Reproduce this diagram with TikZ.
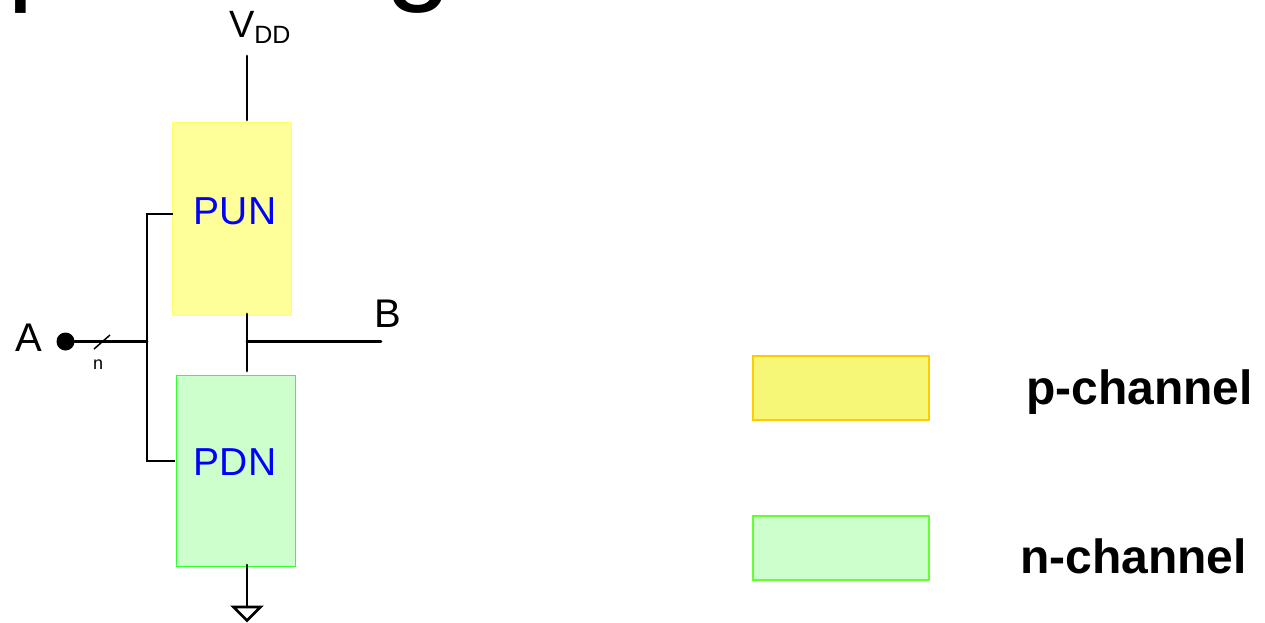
\documentclass[tikz,border=0pt]{standalone}
\usepackage{fontspec}
\setmainfont{Liberation Sans}
\definecolor{punfill}{HTML}{FFFF99}
\definecolor{punline}{HTML}{FFFF66}
\definecolor{pdnfill}{HTML}{CCFFCC}
\definecolor{pdnline}{HTML}{33FF33}
\definecolor{legpfill}{HTML}{F7F777}
\definecolor{legpline}{HTML}{FFCC00}
\definecolor{legnline}{HTML}{66FF33}
\definecolor{netblue}{HTML}{0000FF}
\newcommand{\fs}[1]{\fontsize{#1}{#1}\selectfont}
\tikzset{
  box/.style={draw,line width=1pt,inner sep=0pt,outer sep=0pt},
  legbox/.style={draw,line width=1.6pt,inner sep=0pt,outer sep=0pt},
  wire/.style={draw=black,line width=2.7pt,line cap=round,line join=miter},
  thinwire/.style={draw=black,line width=1.5pt},
  lbl/.style={inner sep=0pt,outer sep=0pt,text=black,anchor=base west},
  netlbl/.style={inner sep=0pt,outer sep=0pt,text=netblue,font=\fs{39}},
  leglbl/.style={inner sep=0pt,outer sep=0pt,text=black,anchor=base west,font=\fs{48}\bfseries}
}
\begin{document}
\begin{tikzpicture}[x=1pt,y=-1pt]
\useasboundingbox (0,0) rectangle (1265,623);
% clipped title fragments
\node[lbl,font=\fs{120}] (titlep) at (8,-11) {p};
\node[lbl,font=\fs{120}] (titleg) at (385,-11) {g};
% blocks
\node[box,draw=punline,fill=punfill,minimum width=119pt,minimum height=192pt] (pun) at (231.5,219) {};
\node[box,draw=pdnline,fill=pdnfill,minimum width=119pt,minimum height=191pt] (pdn) at (235.5,470.5) {};
\node[netlbl] (punlbl) at (235,211) {PUN};
\node[netlbl] (pdnlbl) at (235,462) {PDN};
% labels
\node[lbl,font=\fs{38}] (vdd) at (229,38) {V\raisebox{-0.14em}{\fs{25}DD}};
\node[lbl,font=\fs{40}] (a) at (15,351) {A};
\node[lbl,font=\fs{40}] (b) at (374,327) {B};
\node[lbl,font=\fs{18}] (n) at (93,369) {n};
% connector coordinates
\coordinate (vddtop) at (247,56);
\coordinate (vddbot) at (247,120);
\coordinate (midtop) at (247,314);
\coordinate (midbot) at (247,371);
\coordinate (midj) at (247,341.5);
\coordinate (bend) at (381,341.5);
\coordinate (busj) at (147,341.5);
\coordinate (bustop) at (147,214);
\coordinate (busbot) at (147,461);
\coordinate (stubp) at (173,214);
\coordinate (stubn) at (175,461);
\coordinate (gndtop) at (247,565);
\coordinate (gndbot) at (247,607);
\coordinate (slasha) at (94,349);
\coordinate (slashb) at (110,335);
\node[circle,fill=black,inner sep=0pt,outer sep=0pt,minimum size=18pt] (dot) at (65.5,341.5) {};
% wires
\draw[wire] (vddtop) -- (vddbot);
\draw[wire] (midtop) -- (midbot);
\draw[wire] (midj) -- (bend);
\draw[wire] (dot) -- (busj);
\draw[wire,line cap=butt] (stubp) -- (bustop) -- (busbot) -- (stubn);
\draw[thinwire] (slasha) -- (slashb);
\draw[wire] (gndtop) -- (gndbot);
\draw[wire,line cap=butt,line join=miter] (233.5,607) -- (260.5,607) -- (247,620.5) -- cycle;
% legend
\node[legbox,draw=legpline,fill=legpfill,minimum width=176pt,minimum height=64pt] (legp) at (841,388) {};
\node[legbox,draw=legnline,fill=pdnfill,minimum width=176pt,minimum height=64pt] (legn) at (841,548) {};
\node[leglbl] (legptxt) at (1026,404) {p-channel};
\node[leglbl] (legntxt) at (1020,573) {n-channel};
\end{tikzpicture}
\end{document}
